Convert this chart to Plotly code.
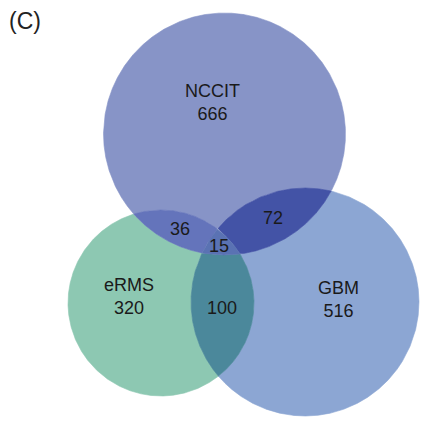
import numpy as np
import plotly.graph_objects as go

# ---- data ----
set_names = ["NCCIT", "eRMS", "GBM"]
# region membership (NCCIT, eRMS, GBM) and counts
region_keys = ["100", "010", "001", "110", "101", "011", "111"]
region_counts = [666, 320, 516, 36, 72, 100, 15]

# ---- layout (pixel geometry, y downward) ----
W, H = 436, 425
circles = [(224.5, 134.0, 121.0), (161.0, 303.0, 93.0), (305.0, 302.0, 114.0)]
region_colors = {
    "100": "#8794C7", "010": "#8DC8B2", "001": "#8CA6D3",
    "110": "#6474BB", "101": "#4353A6", "011": "#4B889B", "111": "#5A72B3",
}
label_pos = {
    "100": (212.5, 102), "010": (129, 296), "001": (338, 299),
    "110": (180, 229), "101": (273, 218), "011": (222, 308), "111": (219, 246),
}


def inside(k, x, y):
    cx, cy, r = circles[k]
    return (x - cx) ** 2 + (y - cy) ** 2 < r ** 2


def region_polygon(key):
    m = [c == "1" for c in key]
    arcs = []
    N = 4000
    for i, (cx, cy, r) in enumerate(circles):
        t = np.linspace(0, 2 * np.pi, N, endpoint=False)
        x = cx + r * np.cos(t)
        y = cy + r * np.sin(t)
        ok = np.ones(N, bool)
        for j in range(3):
            if j == i:
                continue
            ok &= inside(j, x, y) == m[j]
        if not ok.any():
            continue
        if ok.all():
            arcs.append((x, y))
            continue
        start = np.argmin(ok)  # a False index
        idx = np.roll(np.arange(N), -start)
        okr = ok[idx]
        runs = []
        cur = []
        for p, v in zip(idx, okr):
            if v:
                cur.append(p)
            elif cur:
                runs.append(cur)
                cur = []
        if cur:
            runs.append(cur)
        for run in runs:
            arcs.append((x[run], y[run]))
    # chain arcs
    px, py = list(arcs[0][0]), list(arcs[0][1])
    rest = arcs[1:]
    while rest:
        ex, ey = px[-1], py[-1]
        best, bd, rev = None, 1e18, False
        for n, (ax, ay) in enumerate(rest):
            d0 = (ax[0] - ex) ** 2 + (ay[0] - ey) ** 2
            d1 = (ax[-1] - ex) ** 2 + (ay[-1] - ey) ** 2
            if d0 < bd:
                best, bd, rev = n, d0, False
            if d1 < bd:
                best, bd, rev = n, d1, True
        ax, ay = rest.pop(best)
        if rev:
            ax, ay = ax[::-1], ay[::-1]
        px += list(ax)
        py += list(ay)
    px.append(px[0])
    py.append(py[0])
    return px, py


fig = go.Figure()
for key in region_keys:
    px, py = region_polygon(key)
    fig.add_trace(go.Scatter(x=px, y=py, mode="lines", fill="toself",
                             fillcolor=region_colors[key],
                             line=dict(color=region_colors[key], width=0.6),
                             hoverinfo="skip", showlegend=False))

font = dict(family="Liberation Sans, Arial, sans-serif", size=18, color="#1a1a1a")
for key, cnt in zip(region_keys, region_counts):
    x, y = label_pos[key]
    if key in ("100", "010", "001"):
        name = set_names[key.index("1")]
        text = f"{name}<br>{cnt}"
    else:
        text = str(cnt)
    fig.add_annotation(x=x, y=y, text=text, showarrow=False, font=font,
                       xref="x", yref="y")

fig.add_annotation(x=25, y=21, text="(C)", showarrow=False, xref="x", yref="y",
                   font=dict(family="Liberation Sans, Arial, sans-serif", size=23,
                             color="#222222"))

fig.update_xaxes(range=[0, W], visible=False, fixedrange=True)
fig.update_yaxes(range=[H, 0], visible=False, fixedrange=True)
fig.update_layout(width=W, height=H, margin=dict(l=0, r=0, t=0, b=0),
                  paper_bgcolor="white", plot_bgcolor="white")
fig.write_html("out.html", config={"displayModeBar": False},
               post_script="document.body.style.margin='0';document.body.style.overflow='hidden';")
